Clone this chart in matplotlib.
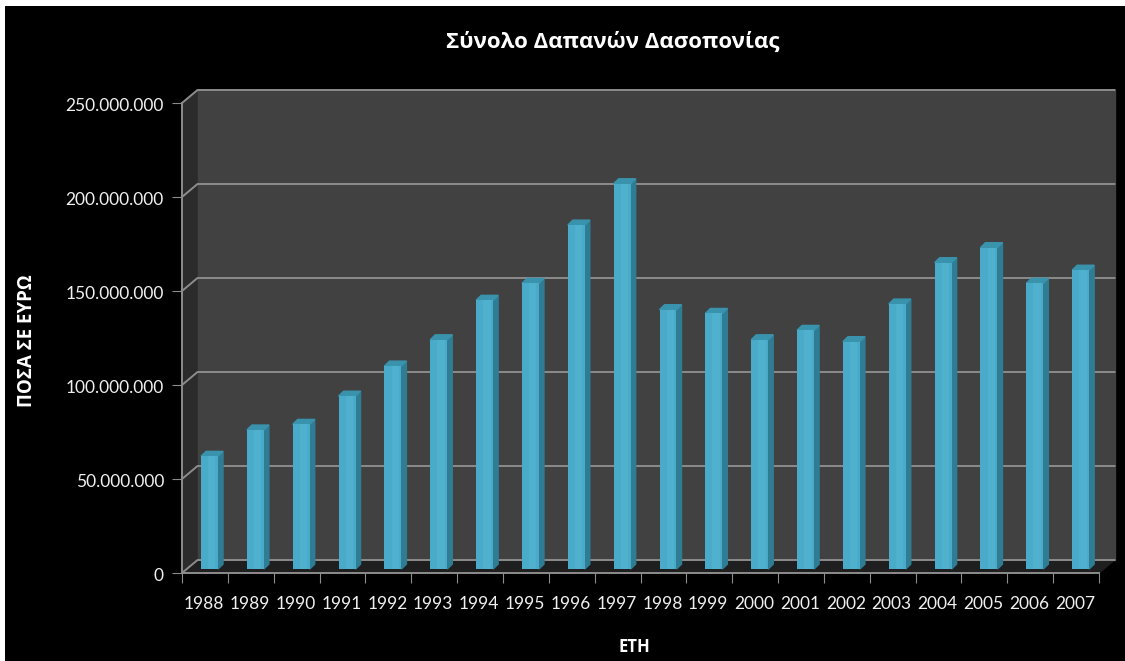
import numpy as np
import matplotlib
matplotlib.use('Agg')
import matplotlib.pyplot as plt
from matplotlib.patches import Rectangle
from matplotlib.transforms import ScaledTranslation

years = list(range(1988, 2008))
totals = [60, 74, 77, 92, 108, 122, 143, 152, 183, 205,
          138, 136, 122, 127, 121, 141, 163, 171, 152, 159]  # million euro
yticks = [0, 50, 100, 150, 200, 250]
ytick_labels = ['0', '50.000.000', '100.000.000', '150.000.000', '200.000.000', '250.000.000']

title = 'Σύνολο Δαπανών Δασοπονίας'
xlabel = 'ΕΤΗ'
ylabel = 'ΠΟΣΑ ΣΕ ΕΥΡΩ'

W, H = 1125, 661
plt.rcParams['font.family'] = ['Lato', 'Open Sans', 'DejaVu Sans']
bold_font = ['Open Sans', 'DejaVu Sans']

fig = plt.figure(figsize=(W / 100, H / 100), dpi=100, facecolor='black')
# white strip left and top of the screenshot
fig.add_artist(Rectangle((0, 0), 5 / W, 1, transform=fig.transFigure, color='white', lw=0))
fig.add_artist(Rectangle((0, 1 - 6 / H), 1, 6 / H, transform=fig.transFigure, color='white', lw=0))

# axes = front plane of the fake 3d box
ax = fig.add_axes([182 / W, 1 - 573 / H, (1099 - 182) / W, (573 - 103) / H])
ax.set_facecolor('none')
ax.set_xlim(0, 20)
ax.set_ylim(0, 250)

# depth of the box in data units
dx = 15.5 / 45.85
dy = 13 * 250 / 470

# walls
ax.fill([0, dx, dx, 0], [0, dy, 250 + dy, 250], color='#2b2b2b', clip_on=False, zorder=1)
ax.fill([dx, 20 + dx, 20 + dx, dx], [dy, dy, 250 + dy, 250 + dy], color='#414141', clip_on=False, zorder=1)
ax.fill([0, 20, 20 + dx, dx], [0, 0, dy, dy], color='#1f1f1f', clip_on=False, zorder=1)

# gridlines on the side and back wall
for t in yticks:
    ax.plot([0, dx, 20 + dx], [t, t + dy, t + dy], color='#8c8c8c', lw=1.4, clip_on=False, zorder=2)

# bars: front face, side and top
x = np.arange(len(years)) + 0.5
bw = 0.37
off = 0.1
base = 2.1
bdx = 0.11
bdy = 2.6
ax.bar(x + off, totals, width=bw, bottom=base, color='#49abc9', zorder=4, clip_on=False)
# lighter strip in the bar face
ax.bar(x + off + 0.05, totals, width=0.16, bottom=base, color='#50b1ce', zorder=4, clip_on=False)
for xi, v in zip(x + off, totals):
    r = xi + bw / 2
    l = xi - bw / 2
    top = v + base
    ax.fill([r, r + bdx, r + bdx, r], [base, base + bdy, top + bdy, top], color='#2f7d94', zorder=3, clip_on=False)
    ax.fill([l, r, r + bdx, l + bdx], [top, top, top + bdy, top + bdy], color='#3a93ad', zorder=3, clip_on=False)

for s in ['top', 'right']:
    ax.spines[s].set_visible(False)
for s in ['left', 'bottom']:
    ax.spines[s].set_color('#8c8c8c')
    ax.spines[s].set_linewidth(1.4)
    ax.spines[s].set_zorder(5)

ax.set_yticks(yticks, ytick_labels)
ax.set_xticks(np.arange(0, 21))
ax.set_xticklabels([])
ax.tick_params(axis='y', colors='#8c8c8c', labelcolor='#f0f0f0', labelsize=12.5, length=7, pad=6)
ax.tick_params(axis='x', colors='#8c8c8c', length=7)
# numbers sit a bit under their ticks
shift = ScaledTranslation(0, -1.5 / 100, fig.dpi_scale_trans)
for lab in ax.get_yticklabels():
    lab.set_transform(lab.get_transform() + shift)
for xi, yr in zip(x, years):
    ax.annotate(str(yr), (xi, 0), xytext=(-1, -31), textcoords='offset pixels', ha='center', va='center',
                color='#f0f0f0', fontsize=12.5)

fig.text(613 / W, 1 - 42 / H, title, color='white', fontsize=16, fontweight='bold', family=bold_font, ha='center', va='center')
fig.text(634 / W, 1 - 647 / H, xlabel, color='white', fontsize=12, fontweight='bold', family=bold_font, ha='center', va='center')
fig.text(27 / W, 1 - 341 / H, ylabel, color='white', fontsize=13.5, fontweight='bold', family=bold_font, rotation=90, ha='center', va='center')

fig.savefig('out.png', dpi=100, facecolor='black')
